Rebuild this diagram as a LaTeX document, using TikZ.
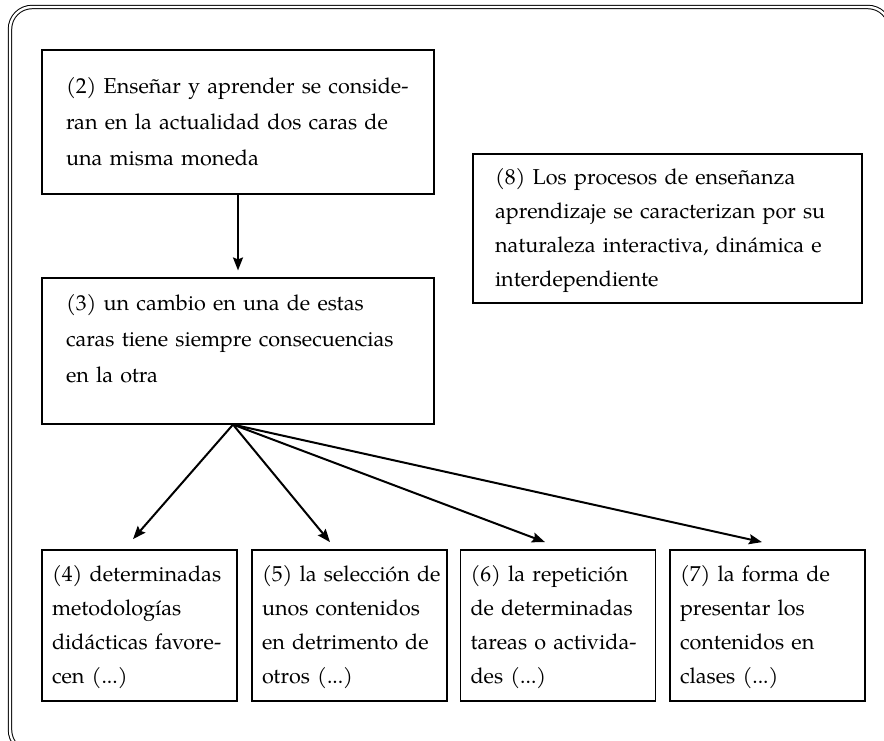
\documentclass[tikz,border=0pt]{standalone}
\usepackage{fontspec}
\setmainfont{TeX Gyre Pagella}
\usetikzlibrary{arrows.meta}

\newcommand{\renglones}[1]{\begin{tabular}{@{}l@{}}#1\end{tabular}}

\begin{document}
\begin{tikzpicture}[x=0.5pt, y=-0.5pt,
        caja/.style={draw, line width=0.9pt, align=left, inner xsep=12pt, text width=172pt, minimum height=72pt, font=\fontsize{10.8}{18}\selectfont},
        cajita/.style={draw, line width=0.9pt, align=left, inner xsep=5pt, text width=87.5pt, minimum height=75.5pt, font=\fontsize{10.8}{17}\selectfont},
        flecha/.style={line width=1pt, -{Stealth[length=6.5pt, width=5pt, inset=1pt]}}]
        \useasboundingbox (0,0) rectangle (884,740);
        \clip (0,0) rectangle (884,740);
        \draw[double, double distance=1.2pt, line width=0.5pt, rounded corners=11pt] (10,7) rectangle (890,752);

        \node[caja] (b2) at (238,122) {\renglones{(2) Enseñar y aprender se conside-\\ran en la actualidad dos caras de\\una misma moneda}};
        \node[caja] (b3) at (238,351) {\raisebox{0pt}[\height][\dimexpr\depth+12pt\relax]{\renglones{(3) un cambio en una de estas\\caras tiene siempre consecuencias\\en la otra}}};
        \node[caja, inner xsep=11pt, text width=172.5pt, minimum height=71.5pt, font=\fontsize{10.8}{17}\selectfont] (b8) at (667.5,228.5) {\renglones{(8) Los procesos de enseñanza\\aprendizaje se caracterizan por su\\naturaleza interactiva, dinámica e\\interdependiente}};

        \node[cajita] (b4) at (139.5,625.5) {\renglones{(4) determinadas\\metodologías\\didácticas favore-\\cen (...)}};
        \node[cajita] (b5) at (349.5,625.5) {\renglones{(5) la selección de\\unos contenidos\\en detrimento de\\otros (...)}};
        \node[cajita] (b6) at (558,625.5) {\renglones{(6) la repetición\\de determinadas\\tareas o activida-\\des (...)}};
        \node[cajita] (b7) at (767.5,625.5) {\renglones{(7) la forma de\\presentar los\\contenidos en\\clases (...)}};

        \draw[flecha] (b2.south) -- ([shift={(0,-7)}]b3.north);
        \draw[flecha] ([shift={(-5,0)}]b3.south) -- ([shift={(-6.5,-10)}]b4.north);
        \draw[flecha] ([shift={(-5,0)}]b3.south) -- ([shift={(-19.5,-7)}]b5.north);
        \draw[flecha] ([shift={(-5,0)}]b3.south) -- ([shift={(-13,-7)}]b6.north);
        \draw[flecha] ([shift={(-5,0)}]b3.south) -- ([shift={(-5.5,-7)}]b7.north);
    \end{tikzpicture}
\end{document}
